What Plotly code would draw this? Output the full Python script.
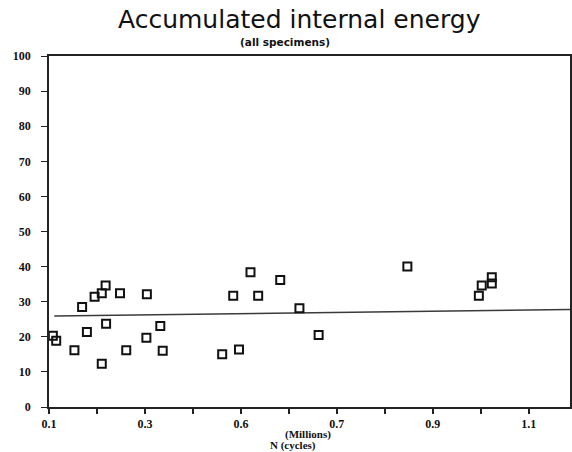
import plotly.graph_objects as go

# Data (N in millions of cycles, accumulated internal energy)
n_cycles = [0.108, 0.115, 0.153, 0.169, 0.179, 0.195, 0.210, 0.218, 0.219, 0.210,
            0.248, 0.261, 0.304, 0.303, 0.332, 0.337, 0.461, 0.484, 0.496, 0.520,
            0.536, 0.582, 0.622, 0.662, 0.847, 0.996, 1.002, 1.023, 1.023, 1.196]
energy = [20.3, 18.9, 16.2, 28.5, 21.4, 31.4, 32.4, 34.6, 23.7, 12.3,
          32.4, 16.2, 32.1, 19.7, 23.1, 16.0, 15.0, 31.7, 16.4, 38.4,
          31.7, 36.2, 28.1, 20.5, 40.0, 31.7, 34.6, 37.0, 35.2, 25.1]

trend_x = [0.111, 1.19]
trend_y = [25.9, 27.8]

x_tickvals = [0.1, 0.2, 0.3, 0.4, 0.5, 0.6, 0.7, 0.8, 0.9, 1.0, 1.1]
x_ticktext = ["0.1", "", "0.3", "", "0.6", "", "0.7", "", "0.9", "", "1.1"]
y_tickvals = [0, 10, 20, 30, 40, 50, 60, 70, 80, 90, 100]

title_text = "Accumulated internal energy"
subtitle_text = "(all specimens)"
xunit_text = "(Millions)"
xtitle_text = "N (cycles)"

fig = go.Figure()

fig.add_trace(go.Scatter(
    x=trend_x, y=trend_y, mode="lines",
    line=dict(color="#3a3a3a", width=1.5),
    hoverinfo="skip", showlegend=False,
))

fig.add_trace(go.Scatter(
    x=n_cycles, y=energy, mode="markers",
    marker=dict(symbol="square-open", size=8, color="#111111",
                line=dict(width=2, color="#111111")),
    cliponaxis=False, showlegend=False,
))

tick_font = dict(family="Liberation Serif", size=12, color="#111111", weight="bold")

fig.update_layout(
    width=572, height=452,
    margin=dict(l=49, r=2, t=56, b=45),
    paper_bgcolor="white", plot_bgcolor="white",
    xaxis=dict(
        range=[0.1, 1.186], tickmode="array", tickvals=x_tickvals, ticktext=x_ticktext,
        showgrid=False, zeroline=False, showline=True, linecolor="#222222", linewidth=1.5,
        mirror=True, ticks="outside", ticklen=5, tickwidth=1.5, tickcolor="#222222",
        tickfont=tick_font, automargin=False,
    ),
    yaxis=dict(
        range=[0, 100], tickmode="array", tickvals=y_tickvals,
        showgrid=False, zeroline=False, showline=True, linecolor="#222222", linewidth=1.5,
        mirror=True, ticks="outside", ticklen=6, tickwidth=1, tickcolor="#222222",
        tickfont=tick_font, ticklabelstandoff=8, automargin=False,
    ),
    annotations=[
        dict(text=title_text, xref="paper", yref="paper", x=0.48, y=1.1054,
             xanchor="center", yanchor="middle", showarrow=False,
             font=dict(family="DejaVu Sans", size=25, color="#111111")),
        dict(text=subtitle_text, xref="paper", yref="paper", x=0.453, y=1.0413,
             xanchor="center", yanchor="middle", showarrow=False,
             font=dict(family="DejaVu Sans", size=10.5, color="#111111", weight="bold")),
        dict(text=xunit_text, xref="paper", yref="paper", x=0.497, y=-0.077,
             xanchor="center", yanchor="middle", showarrow=False,
             font=dict(family="Liberation Serif", size=11, color="#111111", weight="bold")),
        dict(text=xtitle_text, xref="paper", yref="paper", x=0.468, y=-0.111,
             xanchor="center", yanchor="middle", showarrow=False,
             font=dict(family="Liberation Serif", size=11, color="#111111", weight="bold")),
    ],
)

fig.write_html(
    "out.html",
    config={"displayModeBar": False},
    post_script="document.body.style.margin='0';document.body.style.overflow='hidden';",
)
